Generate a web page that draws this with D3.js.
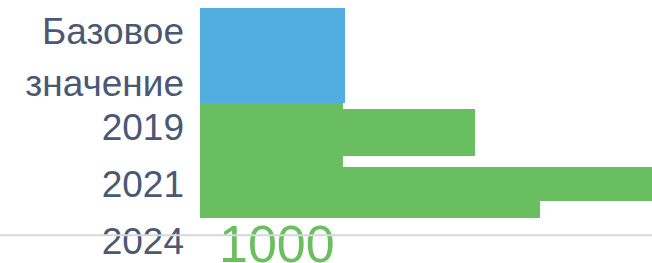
<!DOCTYPE html>
<html>
<head>
<meta charset="utf-8">
<script src="https://cdn.jsdelivr.net/npm/d3@7"></script>
<style>
  body { margin: 0; background: #fff; overflow: hidden; }
  text { font-family: "Liberation Sans", Arial, sans-serif; }
</style>
</head>
<body>
<div id="chart"></div>
<script>
// chart size
var width = 652,
    height = 263;

// categories (row labels) and their row index
var categories = ["Базовое значение", "2019", "2021", "2024"];
var categoryRow = [1, 2, 3, 4];

// bars: start / end value and the rows they cover
var barKind   = ["base", "step", "step", "step", "step"];
var barFrom   = [0,     0,    317,  317,  317];
var barTo     = [321,   317,  608,  1000, 752];
var barRowTop = [-0.09, 1.58, 1.69, 2.71, 2.71];
var barRowBot = [1.58,  3.59, 2.50, 3.30, 3.59];

// value label shown under the chart
var valueLabel = "1000";

var x = d3.scaleLinear().domain([0, 1000]).range([200, 652]);
var y = d3.scaleLinear().domain([0, 4]).range([13, 241]);

var colors = { base: "#52aee0", step: "#69be5f" };

var svg = d3.select("#chart")
    .append("svg")
    .attr("width", width)
    .attr("height", height);

var bars = barKind.map(function(k, i) {
  return { kind: k, from: barFrom[i], to: barTo[i], top: barRowTop[i], bot: barRowBot[i] };
});

svg.selectAll("rect.bar")
    .data(bars)
    .enter()
    .append("rect")
    .attr("class", "bar")
    .attr("shape-rendering", "crispEdges")
    .attr("x", function(d) { return x(d.from); })
    .attr("width", function(d) { return x(d.to) - x(d.from); })
    .attr("y", function(d) { return y(d.top); })
    .attr("height", function(d) { return y(d.bot) - y(d.top); })
    .style("fill", function(d) { return colors[d.kind]; });

// row labels, the base one is wrapped and centred on its bar
var labels = svg.selectAll("text.cat")
    .data(categories)
    .enter()
    .append("text")
    .attr("class", "cat")
    .attr("text-anchor", "end")
    .style("font-size", "37px")
    .style("fill", "#4a5874");

labels.each(function(d, i) {
  var t = d3.select(this);
  var words = d.split(" ");
  var cy = words.length > 1 ? (y(barRowTop[0]) + y(barRowBot[0])) / 2 + 2 : y(categoryRow[i]);
  var lineH = 52;
  words.forEach(function(w, j) {
    t.append("tspan")
      .attr("x", 184)
      .attr("y", cy + (j - (words.length - 1) / 2) * lineH + 13)
      .text(w);
  });
});

// value label
svg.append("text")
    .attr("x", 219)
    .attr("y", 262)
    .style("font-size", "52px")
    .style("fill", "#6bbf5f")
    .text(valueLabel);

// baseline
svg.append("line")
    .attr("x1", 0)
    .attr("x2", width)
    .attr("y1", y(3.9))
    .attr("y2", y(3.9))
    .style("stroke", "#d4d8d8")
    .style("stroke-width", 2);
</script>
</body>
</html>
